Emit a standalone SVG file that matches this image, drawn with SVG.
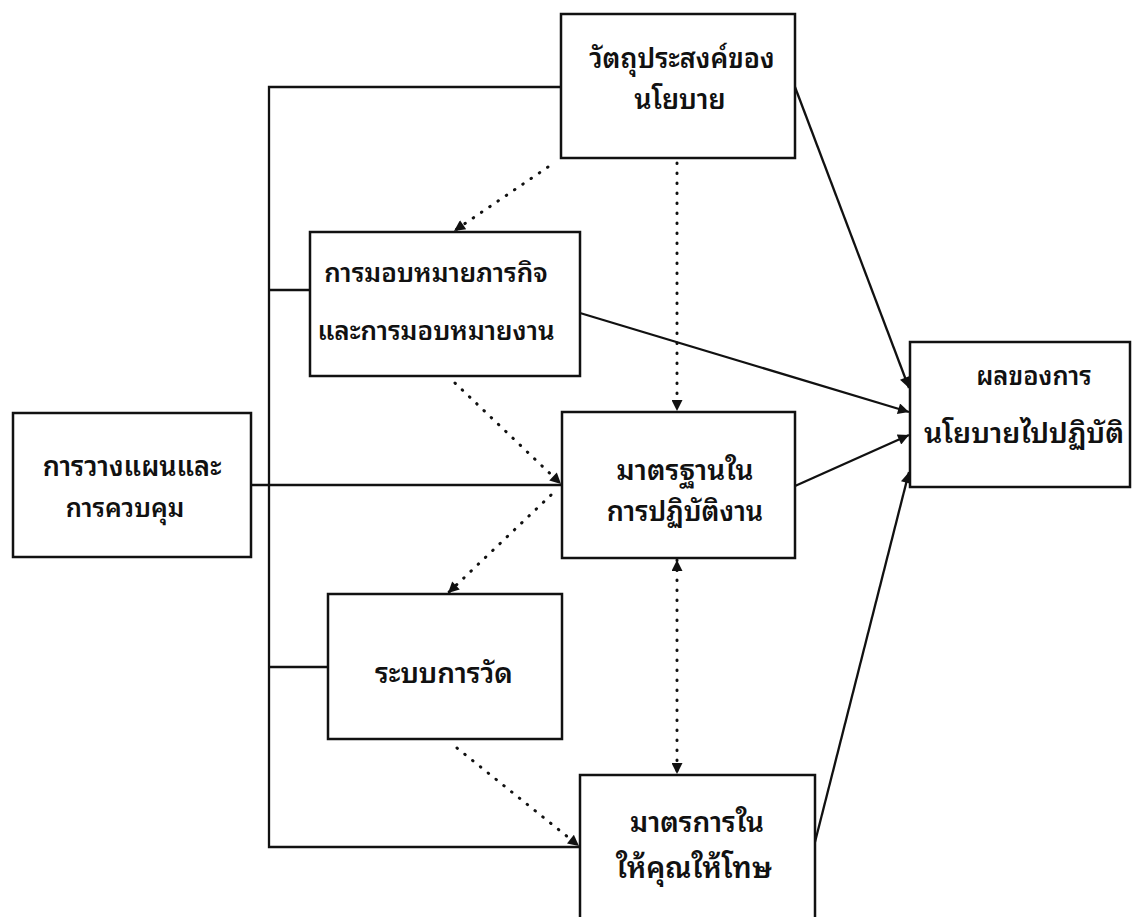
<svg xmlns="http://www.w3.org/2000/svg" width="1136" height="917" viewBox="0 0 1136 917">
<style>
.box{fill:#fff;stroke:#111;stroke-width:2.5}
.t{font-family:"Noto Sans Thai Looped","Garuda","Loma","Noto Sans Thai","Noto Sans","DejaVu Sans",sans-serif;font-size:27px;font-weight:600;fill:#111;text-anchor:middle}
.s{stroke:#111;stroke-width:2.3;fill:none}
.d{stroke:#111;stroke-width:3;fill:none;stroke-dasharray:0.5 9.5;stroke-linecap:round}
</style>
<defs>
<marker id="ah" viewBox="0 0 10 10" refX="10" refY="5" markerWidth="15" markerHeight="11" markerUnits="userSpaceOnUse" orient="auto-start-reverse">
<path d="M0,0 L10,5 L0,10 Z" fill="#111"/>
</marker>
</defs>
<g id="connectors">
<path class="s" d="M561,87 H269 V847 H580"/>
<path class="s" d="M269,290 H310"/>
<path class="s" d="M269,667 H328"/>
<path class="s" d="M251,485 H562"/>
<path class="s" d="M795,87 L909,388" marker-end="url(#ah)"/>
<path class="s" d="M580,313 L909,412" marker-end="url(#ah)"/>
<path class="s" d="M795,486 L909,435" marker-end="url(#ah)"/>
<path class="s" d="M815,842 L909,472" marker-end="url(#ah)"/>
<path class="d" d="M548,167 L454,231" marker-end="url(#ah)"/>
<path class="d" d="M677,163 V411" marker-end="url(#ah)"/>
<path class="d" d="M455,383 L561,484" marker-end="url(#ah)"/>
<path class="d" d="M551,495 L448,593" marker-end="url(#ah)"/>
<path class="d" d="M677,560 V774" marker-start="url(#ah)" marker-end="url(#ah)"/>
<path class="d" d="M457,748 L579,846" marker-end="url(#ah)"/>
</g>
<g id="n-objective">
<rect class="box" x="561" y="14" width="234" height="144"/>
<text class="t"><tspan x="682" y="68">วัตถุประสงค์ของ</tspan><tspan x="680" y="109">นโยบาย</tspan></text>
</g>
<g id="n-assign">
<rect class="box" x="310" y="232" width="270" height="144"/>
<text class="t" style="font-size:26px"><tspan x="436" y="282">การมอบหมายภารกิจ</tspan><tspan x="436" y="340">และการมอบหมายงาน</tspan></text>
</g>
<g id="n-plan">
<rect class="box" x="13" y="413" width="238" height="144"/>
<text class="t"><tspan x="132" y="476">การวางแผนและ</tspan><tspan x="125" y="517" style="font-size:25.5px">การควบคุม</tspan></text>
</g>
<g id="n-standard">
<rect class="box" x="562" y="412" width="233" height="146"/>
<text class="t"><tspan x="685" y="480" style="font-size:28px">มาตรฐานใน</tspan><tspan x="685" y="521">การปฏิบัติงาน</tspan></text>
</g>
<g id="n-measure">
<rect class="box" x="328" y="594" width="234" height="145"/>
<text class="t" x="444" y="683" style="font-size:28px">ระบบการวัด</text>
</g>
<g id="n-reward">
<rect class="box" x="580" y="775" width="235" height="160"/>
<text class="t"><tspan x="697" y="832" style="font-size:28px">มาตรการใน</tspan><tspan x="694" y="878" style="font-size:29px">ให้คุณให้โทษ</tspan></text>
</g>
<g id="n-result">
<rect class="box" x="910" y="342" width="220" height="145"/>
<text class="t"><tspan x="1034" y="385" style="font-size:25.5px">ผลของการ</tspan><tspan x="1024" y="443" style="font-size:28.5px">นโยบายไปปฏิบัติ</tspan></text>
</g>
</svg>
